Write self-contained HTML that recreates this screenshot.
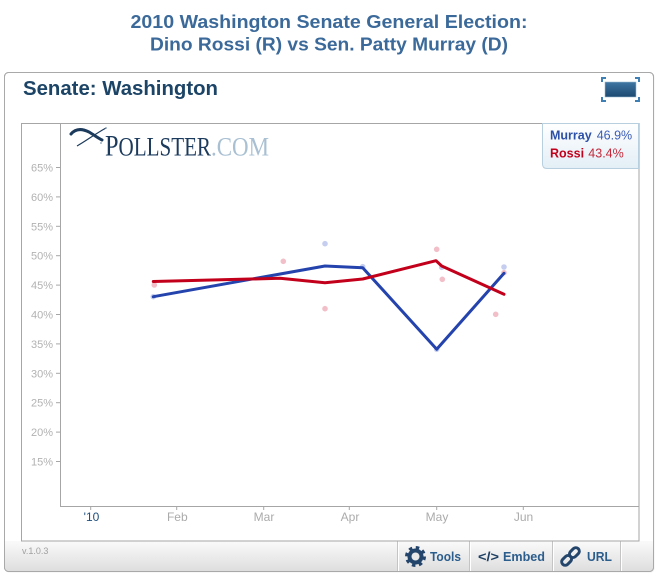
<!DOCTYPE html>
<html>
<head>
<meta charset="utf-8">
<style>
html,body{margin:0;padding:0;background:#fff;}
body{width:658px;height:578px;overflow:hidden;}
svg{display:block;}
</style>
</head>
<body>
<svg width="658" height="578" viewBox="0 0 658 578" xmlns="http://www.w3.org/2000/svg" font-family="'Liberation Sans', Arial, sans-serif">
  <defs>
    <linearGradient id="tb" x1="0" y1="0" x2="0" y2="1">
      <stop offset="0" stop-color="#fafafa"/>
      <stop offset="1" stop-color="#dedede"/>
    </linearGradient>
    <linearGradient id="lg" x1="0" y1="0" x2="0" y2="1">
      <stop offset="0" stop-color="#ffffff"/>
      <stop offset="1" stop-color="#e3eef6"/>
    </linearGradient>
    <linearGradient id="fs" x1="0" y1="0" x2="0" y2="1">
      <stop offset="0" stop-color="#3f76a3"/>
      <stop offset="1" stop-color="#1b4870"/>
    </linearGradient>
  </defs>

  <!-- Title -->
  <text x="329" y="28" text-anchor="middle" font-size="18" font-weight="bold" fill="#3b6a9a" textLength="397" lengthAdjust="spacingAndGlyphs">2010 Washington Senate General Election:</text>
  <text x="329" y="50.5" text-anchor="middle" font-size="18" font-weight="bold" fill="#3b6a9a" textLength="358" lengthAdjust="spacingAndGlyphs">Dino Rossi (R) vs Sen. Patty Murray (D)</text>

  <!-- Outer widget box -->
  <rect x="5.5" y="73.5" width="649" height="499" rx="4" fill="#e6e6e6" opacity="0.6"/>
  <rect x="4.5" y="72.5" width="649" height="499" rx="4" fill="#ffffff" stroke="#a9a9a9"/>
  <!-- toolbar bg -->
  <path d="M5,541 L653,541 L653,567 Q653,571 649,571 L9,571 Q5,571 5,567 Z" fill="url(#tb)"/>
  <rect x="4.5" y="72.5" width="649" height="499" rx="4" fill="none" stroke="#a9a9a9"/>

  <!-- Header -->
  <text x="23" y="95" font-size="20.5" font-weight="bold" fill="#1c4466" textLength="195" lengthAdjust="spacingAndGlyphs">Senate: Washington</text>

  <!-- fullscreen icon -->
  <rect x="605" y="82" width="31" height="15" fill="url(#fs)" stroke="#9dbbd4" stroke-width="0.6"/>
  <g stroke="#3e7fb6" stroke-width="2" fill="none">
    <path d="M602,82 L602,78 L606,78"/>
    <path d="M635,78 L639,78 L639,82"/>
    <path d="M602,97 L602,101 L606,101"/>
    <path d="M635,101 L639,101 L639,97"/>
  </g>

  <!-- Inner chart box -->
  <rect x="21.5" y="123.5" width="617.5" height="417.5" fill="#ffffff" stroke="#a6a6a6"/>
  <line x1="60.5" y1="123" x2="60.5" y2="506.5" stroke="#a6a6a6"/>
  <line x1="60" y1="506.5" x2="639" y2="506.5" stroke="#a6a6a6"/>

  <!-- Logo -->
  <g>
    <path d="M71,134 C76,128 83,129 89,132 C94,135 98,138 102,140" stroke="#1b3a5c" stroke-width="3" fill="none" stroke-linecap="round"/>
    <path d="M77,146 C86,141 95,134 106,128" stroke="#1b3a5c" stroke-width="1.2" fill="none"/>
    <circle cx="106" cy="128" r="0.9" fill="#7f9ab3"/>
    <circle cx="101" cy="143" r="0.9" fill="#7f9ab3"/>
    <text x="105" y="155.3" font-family="'Liberation Serif', serif" fill="#1b3a5c" textLength="106" lengthAdjust="spacingAndGlyphs"><tspan font-size="30">P</tspan><tspan font-size="26">OLLSTER</tspan></text>
    <text x="211" y="155.3" font-family="'Liberation Serif', serif" font-size="26" fill="#a9c0d3" textLength="58" lengthAdjust="spacingAndGlyphs">.COM</text>
  </g>

  <!-- Y axis ticks & labels -->
  <g stroke="#a6a6a6" stroke-width="1">
    <line x1="56" y1="167.5" x2="60" y2="167.5"/>
    <line x1="56" y1="196.9" x2="60" y2="196.9"/>
    <line x1="56" y1="226.3" x2="60" y2="226.3"/>
    <line x1="56" y1="255.7" x2="60" y2="255.7"/>
    <line x1="56" y1="285.1" x2="60" y2="285.1"/>
    <line x1="56" y1="314.5" x2="60" y2="314.5"/>
    <line x1="56" y1="343.9" x2="60" y2="343.9"/>
    <line x1="56" y1="373.3" x2="60" y2="373.3"/>
    <line x1="56" y1="402.7" x2="60" y2="402.7"/>
    <line x1="56" y1="432.1" x2="60" y2="432.1"/>
    <line x1="56" y1="461.5" x2="60" y2="461.5"/>
  </g>
  <g font-size="11" fill="#b2b2b2" text-anchor="end">
    <text x="53" y="171.5">65%</text>
    <text x="53" y="200.9">60%</text>
    <text x="53" y="230.3">55%</text>
    <text x="53" y="259.7">50%</text>
    <text x="53" y="289.1">45%</text>
    <text x="53" y="318.5">40%</text>
    <text x="53" y="347.9">35%</text>
    <text x="53" y="377.3">30%</text>
    <text x="53" y="406.7">25%</text>
    <text x="53" y="436.1">20%</text>
    <text x="53" y="465.5">15%</text>
  </g>

  <!-- X axis ticks & labels -->
  <g stroke="#a6a6a6" stroke-width="1">
    <line x1="90.7" y1="506" x2="90.7" y2="510"/>
    <line x1="176.7" y1="506" x2="176.7" y2="510"/>
    <line x1="263.7" y1="506" x2="263.7" y2="510"/>
    <line x1="349.3" y1="506" x2="349.3" y2="510"/>
    <line x1="436.7" y1="506" x2="436.7" y2="510"/>
    <line x1="523.3" y1="506" x2="523.3" y2="510"/>
  </g>
  <g font-size="12" fill="#ababab" text-anchor="middle">
    <text x="91.5" y="521" fill="#1f4f7c">'10</text>
    <text x="177.3" y="521">Feb</text>
    <text x="264" y="521">Mar</text>
    <text x="350" y="521">Apr</text>
    <text x="437" y="521">May</text>
    <text x="523.5" y="521">Jun</text>
  </g>

  <!-- Dots -->
  <g fill="#f2bfc8">
    <circle cx="154.3" cy="285" r="2.8"/>
    <circle cx="283.3" cy="261.3" r="2.8"/>
    <circle cx="325" cy="308.7" r="2.8"/>
    <circle cx="436.7" cy="249.3" r="2.8"/>
    <circle cx="442.3" cy="279.3" r="2.8"/>
    <circle cx="495.7" cy="314.3" r="2.8"/>
    <circle cx="504" cy="272.7" r="2.8"/>
  </g>
  <g fill="#c6cef0">
    <circle cx="325" cy="243.7" r="2.8"/>
    <circle cx="362.7" cy="266.7" r="2.8"/>
    <circle cx="441.7" cy="267.3" r="2.8"/>
    <circle cx="504" cy="267" r="2.8"/>
    <circle cx="153.3" cy="296.7" r="2.8"/>
    <circle cx="436.7" cy="349.3" r="2.8"/>
  </g>

  <!-- Lines -->
  <polyline points="153.3,296.7 325,266 362.7,267.7 436.7,349.3 504,273.3" fill="none" stroke="#2443ad" stroke-width="3" stroke-linejoin="round" stroke-linecap="round"/>
  <polyline points="153.3,281.5 280,278.3 325,282.7 362.7,279 436,260.7 441.7,266 504,294.3" fill="none" stroke="#c3001b" stroke-width="3" stroke-linejoin="round" stroke-linecap="round"/>

  <!-- Legend -->
  <path d="M542.5,123.5 L638.5,123.5 L638.5,168.5 L547,168.5 Q542.5,168.5 542.5,164 Z" fill="url(#lg)" stroke="#b7cfdf"/>
  <text x="550" y="139.3" font-size="12.5" font-weight="bold" fill="#2c4fa8">Murray</text>
  <text x="596.7" y="139.3" font-size="12.5" fill="#3a5cb3">46.9%</text>
  <text x="550" y="157.7" font-size="12.5" font-weight="bold" fill="#c3001b">Rossi</text>
  <text x="588.3" y="157.7" font-size="12.5" fill="#c4283a">43.4%</text>

  <!-- Toolbar -->
  <text x="22" y="554" font-size="9" fill="#a0a0a0">v.1.0.3</text>
  <g>
    <line x1="397.5" y1="541.5" x2="397.5" y2="571" stroke="#c4c4c4"/>
    <line x1="398.5" y1="541.5" x2="398.5" y2="571" stroke="#ffffff"/>
    <line x1="469.5" y1="541.5" x2="469.5" y2="571" stroke="#c4c4c4"/>
    <line x1="470.5" y1="541.5" x2="470.5" y2="571" stroke="#ffffff"/>
    <line x1="552.5" y1="541.5" x2="552.5" y2="571" stroke="#c4c4c4"/>
    <line x1="553.5" y1="541.5" x2="553.5" y2="571" stroke="#ffffff"/>
    <line x1="620.5" y1="541.5" x2="620.5" y2="571" stroke="#c4c4c4"/>
    <line x1="621.5" y1="541.5" x2="621.5" y2="571" stroke="#ffffff"/>
  </g>
  <!-- gear -->
  <g transform="translate(415.5,556.5)">
    <circle r="8" fill="#24456b"/>
    <circle r="9" fill="none" stroke="#24456b" stroke-width="3" stroke-dasharray="3.5 3.57"/>
    <circle r="4" fill="#e8e8e8"/>
  </g>
  <text x="430" y="561" font-size="12.5" font-weight="bold" fill="#2b5d8d" textLength="31" lengthAdjust="spacingAndGlyphs">Tools</text>
  <text x="478" y="561" font-size="12.5" font-weight="bold" fill="#1e3f63" textLength="21" lengthAdjust="spacingAndGlyphs">&lt;/&gt;</text>
  <text x="503" y="561" font-size="12.5" font-weight="bold" fill="#2b5d8d" textLength="42" lengthAdjust="spacingAndGlyphs">Embed</text>
  <!-- chain -->
  <g transform="translate(570.5,556.5) rotate(-45)" fill="none" stroke="#24456b" stroke-width="3">
    <rect x="-11" y="-3.5" width="11" height="7" rx="3.5"/>
    <rect x="0" y="-3.5" width="11" height="7" rx="3.5"/>
  </g>
  <text x="587" y="561" font-size="12.5" font-weight="bold" fill="#2b5d8d" textLength="25" lengthAdjust="spacingAndGlyphs">URL</text>
</svg>
</body>
</html>
